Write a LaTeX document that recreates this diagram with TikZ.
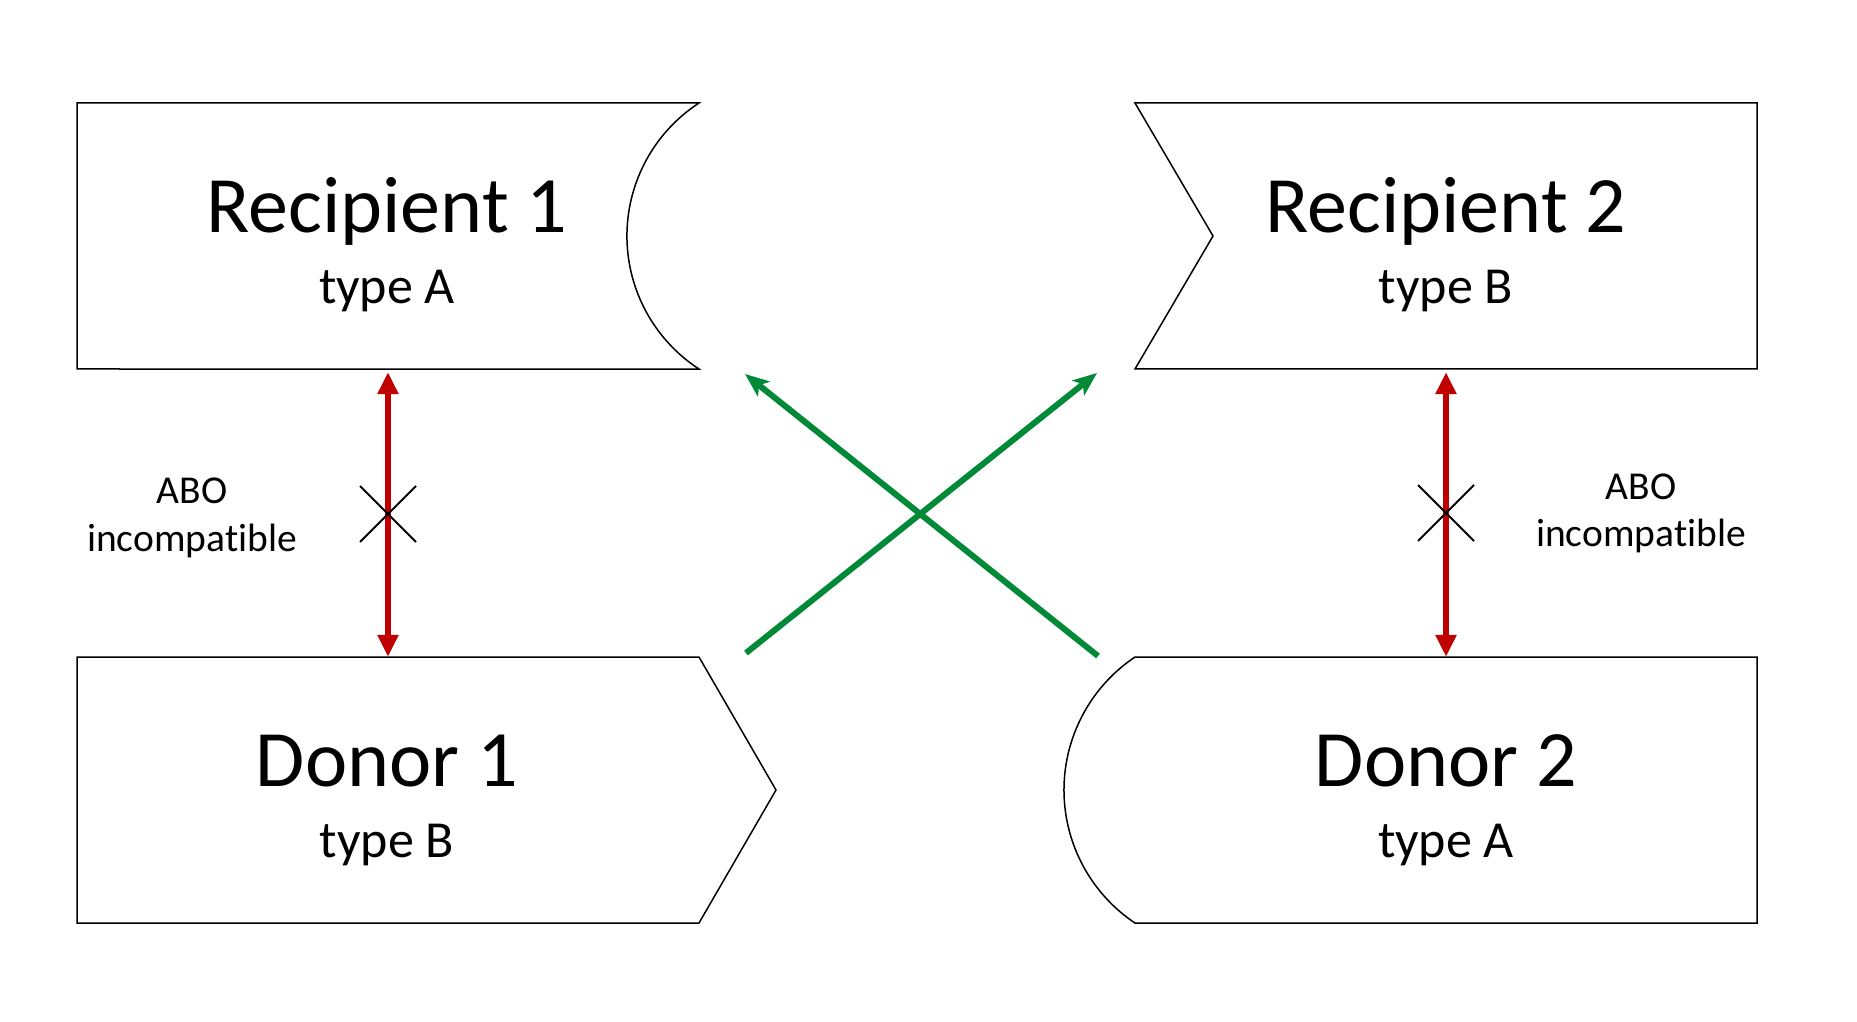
\documentclass[tikz,border=0pt]{standalone}
\usepackage{fontspec}
\setmainfont{Carlito}[Ligatures={NoCommon,NoDiscretionary,NoContextual}]
\usetikzlibrary{arrows.meta,shapes.misc}
\definecolor{redarr}{RGB}{192,0,0}
\definecolor{greenarr}{RGB}{0,138,56}
\tikzset{
  x=1pt,y=1pt,
  shapeline/.style={draw=black,line width=1.5pt,line join=miter},
  boxarea/.style={minimum width=622pt,minimum height=266pt,inner sep=0pt},
  titletext/.style={anchor=base,font=\fontsize{80}{90}\selectfont},
  typetext/.style={anchor=base,font=\fontsize{52}{60}\selectfont},
  abotext/.style={anchor=base,font=\fontsize{39.5}{44}\selectfont},
  redarrow/.style={draw=redarr,line width=6.5pt,{Triangle[length=22pt,width=20pt]}-{Triangle[length=22pt,width=20pt]},shorten <=3pt},
  greenarrow/.style={draw=greenarr,line width=6pt,-{Stealth[length=24pt,width=19pt,inset=6pt]}},
  xmark/.style={cross out,draw=black,line width=2pt,minimum size=54pt,inner sep=0pt}
}
\begin{document}
\begin{tikzpicture}
\useasboundingbox (0,0) rectangle (1857,1021);
% box areas (for naming)
\node[boxarea] (r1) at (388,785) {};
\node[boxarea] (r2) at (1446,785) {};
\node[boxarea] (d1) at (388,231) {};
\node[boxarea] (d2) at (1446,231) {};
% shapes
\draw[shapeline] (77,918) -- (699,918) arc[start angle=123.1,end angle=236.9,radius=158.8pt] -- (77,652) -- cycle;
\draw[shapeline] (1135,918) -- (1757,918) -- (1757,652) -- (1135,652) -- (1213,785) -- cycle;
\draw[shapeline] (77,364) -- (699,364) -- (776,231) -- (699,98) -- (77,98) -- cycle;
\draw[shapeline] (1757,364) -- (1135,364) arc[start angle=123.8,end angle=236.2,radius=160.1pt] -- (1757,98) -- cycle;
% texts
\node[titletext] (r1t) at (387,788) {Recipient 1};
\node[typetext] (r1s) at (387,717) {type A};
\node[titletext] (r2t) at (1446,788) {Recipient 2};
\node[typetext] (r2s) at (1446,717) {type B};
\node[titletext] (d1t) at (387,235) {Donor 1};
\node[typetext] (d1s) at (387,164) {type B};
\node[titletext] (d2t) at (1446,235) {Donor 2};
\node[typetext] (d2s) at (1446,164) {type A};
% red arrows
\draw[redarrow] (r1.south) -- (d1.north);
\draw[redarrow] (r2.south) -- (d2.north);
% crosses
\node[xmark] (x1) at (388,507) {};
\node[xmark] (x2) at (1446,508) {};
% labels
\node[abotext] (l1a) at (192,517) {ABO};
\node[abotext] (l1b) at (192,469) {incompat\kern0pt ible};
\node[abotext] (l2a) at (1641,521) {ABO};
\node[abotext] (l2b) at (1641,474) {incompat\kern0pt ible};
% green arrows
\coordinate (g1s) at (746,368);
\coordinate (g1e) at (1097,648);
\coordinate (g2s) at (1098,365);
\coordinate (g2e) at (745,647);
\draw[greenarrow] (g1s) -- (g1e);
\draw[greenarrow] (g2s) -- (g2e);
\end{tikzpicture}
\end{document}
